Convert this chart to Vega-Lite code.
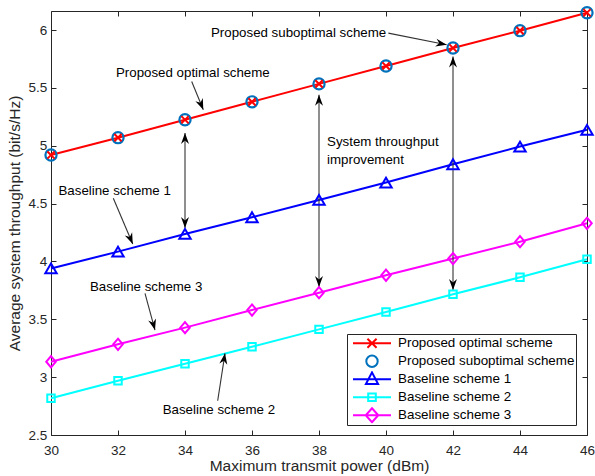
{
  "$schema": "https://vega.github.io/schema/vega-lite/v6.json",
  "width": 536,
  "height": 424,
  "autosize": "none",
  "padding": {"left": 51, "top": 11, "right": 8, "bottom": 41},
  "config": {
    "view": {"stroke": null},
    "font": "Liberation Sans",
    "axis": {
      "grid": false,
      "domainColor": "#262626",
      "tickColor": "#262626",
      "labelColor": "#262626",
      "titleColor": "#262626",
      "labelFont": "Liberation Sans",
      "titleFont": "Liberation Sans",
      "labelFontSize": 13.5,
      "titleFontSize": 15.5,
      "titleFontWeight": "normal",
      "tickSize": -5,
      "domainWidth": 1,
      "tickWidth": 1,
      "labelFlush": false
    }
  },
  "datasets": {
    "curves": [
      {"series": "Proposed optimal scheme", "power": 30, "throughput": 4.92},
      {"series": "Proposed optimal scheme", "power": 32, "throughput": 5.07},
      {"series": "Proposed optimal scheme", "power": 34, "throughput": 5.225},
      {"series": "Proposed optimal scheme", "power": 36, "throughput": 5.38},
      {"series": "Proposed optimal scheme", "power": 38, "throughput": 5.535},
      {"series": "Proposed optimal scheme", "power": 40, "throughput": 5.69},
      {"series": "Proposed optimal scheme", "power": 42, "throughput": 5.845},
      {"series": "Proposed optimal scheme", "power": 44, "throughput": 5.995},
      {"series": "Proposed optimal scheme", "power": 46, "throughput": 6.15},
      {"series": "Proposed suboptimal scheme", "power": 30, "throughput": 4.92},
      {"series": "Proposed suboptimal scheme", "power": 32, "throughput": 5.07},
      {"series": "Proposed suboptimal scheme", "power": 34, "throughput": 5.225},
      {"series": "Proposed suboptimal scheme", "power": 36, "throughput": 5.38},
      {"series": "Proposed suboptimal scheme", "power": 38, "throughput": 5.535},
      {"series": "Proposed suboptimal scheme", "power": 40, "throughput": 5.69},
      {"series": "Proposed suboptimal scheme", "power": 42, "throughput": 5.845},
      {"series": "Proposed suboptimal scheme", "power": 44, "throughput": 5.995},
      {"series": "Proposed suboptimal scheme", "power": 46, "throughput": 6.15},
      {"series": "Baseline scheme 1", "power": 30, "throughput": 3.94},
      {"series": "Baseline scheme 1", "power": 32, "throughput": 4.085},
      {"series": "Baseline scheme 1", "power": 34, "throughput": 4.238},
      {"series": "Baseline scheme 1", "power": 36, "throughput": 4.382},
      {"series": "Baseline scheme 1", "power": 38, "throughput": 4.532},
      {"series": "Baseline scheme 1", "power": 40, "throughput": 4.682},
      {"series": "Baseline scheme 1", "power": 42, "throughput": 4.84},
      {"series": "Baseline scheme 1", "power": 44, "throughput": 4.993},
      {"series": "Baseline scheme 1", "power": 46, "throughput": 5.138},
      {"series": "Baseline scheme 2", "power": 30, "throughput": 2.817},
      {"series": "Baseline scheme 2", "power": 32, "throughput": 2.969},
      {"series": "Baseline scheme 2", "power": 34, "throughput": 3.116},
      {"series": "Baseline scheme 2", "power": 36, "throughput": 3.263},
      {"series": "Baseline scheme 2", "power": 38, "throughput": 3.413},
      {"series": "Baseline scheme 2", "power": 40, "throughput": 3.563},
      {"series": "Baseline scheme 2", "power": 42, "throughput": 3.716},
      {"series": "Baseline scheme 2", "power": 44, "throughput": 3.863},
      {"series": "Baseline scheme 2", "power": 46, "throughput": 4.019},
      {"series": "Baseline scheme 3", "power": 30, "throughput": 3.133},
      {"series": "Baseline scheme 3", "power": 32, "throughput": 3.284},
      {"series": "Baseline scheme 3", "power": 34, "throughput": 3.428},
      {"series": "Baseline scheme 3", "power": 36, "throughput": 3.58},
      {"series": "Baseline scheme 3", "power": 38, "throughput": 3.73},
      {"series": "Baseline scheme 3", "power": 40, "throughput": 3.881},
      {"series": "Baseline scheme 3", "power": 42, "throughput": 4.025},
      {"series": "Baseline scheme 3", "power": 44, "throughput": 4.171},
      {"series": "Baseline scheme 3", "power": 46, "throughput": 4.33}
    ],
    "arrows": [
      {"power": 34, "throughput": 4.29, "power2": 34, "throughput2": 5.11, "tipAngle": 0, "tailAngle": 180},
      {"power": 38, "throughput": 3.78, "power2": 38, "throughput2": 5.44, "tipAngle": 0, "tailAngle": 180},
      {"power": 42, "throughput": 3.753, "power2": 42, "throughput2": 5.772, "tipAngle": 0, "tailAngle": 180},
      {"power": 34.2, "throughput": 5.555, "power2": 34.546, "throughput2": 5.311, "tipAngle": 157.7, "tailAngle": null},
      {"power": 40.07, "throughput": 5.974, "power2": 41.81, "throughput2": 5.873, "tipAngle": 101.3, "tailAngle": null},
      {"power": 31.86, "throughput": 4.547, "power2": 32.44, "throughput2": 4.151, "tipAngle": 157, "tailAngle": null},
      {"power": 32.806, "throughput": 3.725, "power2": 33.104, "throughput2": 3.407, "tipAngle": 164.8, "tailAngle": null},
      {"power": 34.976, "throughput": 2.796, "power2": 35.194, "throughput2": 3.206, "tipAngle": 8.8, "tailAngle": null}
    ],
    "notes": [
      {"power": 34.776, "throughput": 5.977, "text": "Proposed suboptimal scheme"},
      {"power": 31.94, "throughput": 5.631, "text": "Proposed optimal scheme"},
      {"power": 30.224, "throughput": 4.612, "text": "Baseline scheme 1"},
      {"power": 31.164, "throughput": 3.782, "text": "Baseline scheme 3"},
      {"power": 33.334, "throughput": 2.715, "text": "Baseline scheme 2"},
      {"power": 38.24, "throughput": 5.036, "text": "System throughput"},
      {"power": 38.24, "throughput": 4.878, "text": "improvement"}
    ]
  },
  "resolve": {"axis": {"x": "independent", "y": "independent"}},
  "layer": [
    {
      "data": {"name": "curves"},
      "transform": [{"filter": "datum.series === 'Proposed optimal scheme'"}],
      "mark": {"type": "line", "strokeWidth": 2, "color": "#FF0000"},
      "encoding": {
        "x": {"field": "power", "type": "quantitative",
          "scale": {"domain": [30, 46], "nice": false, "zero": false},
          "axis": {"orient": "bottom", "values": [30, 32, 34, 36, 38, 40, 42, 44, 46], "format": "d",
            "title": "Maximum transmit power (dBm)", "labelPadding": 13, "titlePadding": 2}},
        "y": {"field": "throughput", "type": "quantitative",
          "scale": {"domain": [2.5, 6.165], "nice": false, "zero": false},
          "axis": {"orient": "left", "values": [2.5, 3, 3.5, 4, 4.5, 5, 5.5, 6], "format": "~g",
            "title": "Average system throughput (bit/s/Hz)", "labelPadding": 9.3, "titlePadding": 5}}
      }
    },
    {
      "data": {"name": "curves"},
      "mark": {"type": "point", "opacity": 0},
      "encoding": {
        "x": {"field": "power", "type": "quantitative",
          "axis": {"orient": "top", "values": [30, 32, 34, 36, 38, 40, 42, 44, 46], "labels": false, "title": null}},
        "y": {"field": "throughput", "type": "quantitative",
          "axis": {"orient": "right", "values": [2.5, 3, 3.5, 4, 4.5, 5, 5.5, 6], "labels": false, "title": null}}
      }
    },
    {
      "data": {"name": "curves"},
      "transform": [{"filter": "datum.series === 'Baseline scheme 1'"}],
      "mark": {"type": "line", "strokeWidth": 2, "color": "#0000FF"},
      "encoding": {
        "x": {"field": "power", "type": "quantitative", "axis": null},
        "y": {"field": "throughput", "type": "quantitative", "axis": null}
      }
    },
    {
      "data": {"name": "curves"},
      "transform": [{"filter": "datum.series === 'Baseline scheme 2'"}],
      "mark": {"type": "line", "strokeWidth": 2, "color": "#00FFFF"},
      "encoding": {
        "x": {"field": "power", "type": "quantitative", "axis": null},
        "y": {"field": "throughput", "type": "quantitative", "axis": null}
      }
    },
    {
      "data": {"name": "curves"},
      "transform": [{"filter": "datum.series === 'Baseline scheme 3'"}],
      "mark": {"type": "line", "strokeWidth": 2, "color": "#FF00FF"},
      "encoding": {
        "x": {"field": "power", "type": "quantitative", "axis": null},
        "y": {"field": "throughput", "type": "quantitative", "axis": null}
      }
    },
    {
      "data": {"name": "arrows"},
      "mark": {"type": "rule", "color": "#333333", "strokeWidth": 1.1},
      "encoding": {
        "x": {"field": "power", "type": "quantitative", "axis": null},
        "y": {"field": "throughput", "type": "quantitative", "axis": null},
        "x2": {"field": "power2"},
        "y2": {"field": "throughput2"}
      }
    },
    {
      "data": {"name": "arrows"},
      "mark": {"type": "point", "shape": "M0,0L-4,11L0,7.5L4,11Z", "size": 4, "filled": true, "color": "black", "opacity": 1, "strokeWidth": 0},
      "encoding": {
        "x": {"field": "power2", "type": "quantitative", "axis": null},
        "y": {"field": "throughput2", "type": "quantitative", "axis": null},
        "angle": {"field": "tipAngle", "type": "quantitative", "scale": null}
      }
    },
    {
      "data": {"name": "arrows"},
      "transform": [{"filter": "datum.tailAngle !== null"}],
      "mark": {"type": "point", "shape": "M0,0L-4,11L0,7.5L4,11Z", "size": 4, "filled": true, "color": "black", "opacity": 1, "strokeWidth": 0},
      "encoding": {
        "x": {"field": "power", "type": "quantitative", "axis": null},
        "y": {"field": "throughput", "type": "quantitative", "axis": null},
        "angle": {"field": "tailAngle", "type": "quantitative", "scale": null}
      }
    },
    {
      "data": {"name": "curves"},
      "transform": [{"filter": "datum.series === 'Proposed suboptimal scheme'"}],
      "mark": {"type": "point", "shape": "circle", "size": 125, "filled": false, "color": "#0072BD", "strokeWidth": 2.2, "opacity": 1},
      "encoding": {
        "x": {"field": "power", "type": "quantitative", "axis": null},
        "y": {"field": "throughput", "type": "quantitative", "axis": null}
      }
    },
    {
      "data": {"name": "curves"},
      "transform": [{"filter": "datum.series === 'Proposed optimal scheme'"}],
      "mark": {"type": "point", "shape": "M-1,-1L1,1M-1,1L1,-1", "size": 52, "filled": false, "color": "#FF0000", "strokeWidth": 2, "opacity": 1},
      "encoding": {
        "x": {"field": "power", "type": "quantitative", "axis": null},
        "y": {"field": "throughput", "type": "quantitative", "axis": null}
      }
    },
    {
      "data": {"name": "curves"},
      "transform": [{"filter": "datum.series === 'Baseline scheme 1'"}],
      "mark": {"type": "point", "shape": "triangle-up", "size": 130, "filled": false, "color": "#0000FF", "strokeWidth": 2, "opacity": 1},
      "encoding": {
        "x": {"field": "power", "type": "quantitative", "axis": null},
        "y": {"field": "throughput", "type": "quantitative", "axis": null}
      }
    },
    {
      "data": {"name": "curves"},
      "transform": [{"filter": "datum.series === 'Baseline scheme 2'"}],
      "mark": {"type": "point", "shape": "square", "size": 56, "filled": false, "color": "#00FFFF", "strokeWidth": 2, "opacity": 1},
      "encoding": {
        "x": {"field": "power", "type": "quantitative", "axis": null},
        "y": {"field": "throughput", "type": "quantitative", "axis": null}
      }
    },
    {
      "data": {"name": "curves"},
      "transform": [{"filter": "datum.series === 'Baseline scheme 3'"}],
      "mark": {"type": "point", "shape": "M0,-1.12L0.95,0L0,1.12L-0.95,0Z", "size": 100, "filled": false, "color": "#FF00FF", "strokeWidth": 2, "opacity": 1},
      "encoding": {
        "x": {"field": "power", "type": "quantitative", "axis": null},
        "y": {"field": "throughput", "type": "quantitative", "axis": null}
      }
    },
    {
      "data": {"name": "notes"},
      "mark": {"type": "text", "align": "left", "baseline": "middle", "font": "Liberation Sans", "fontSize": 13.3, "color": "black"},
      "encoding": {
        "x": {"field": "power", "type": "quantitative", "axis": null},
        "y": {"field": "throughput", "type": "quantitative", "axis": null},
        "text": {"field": "text"}
      }
    },
    {
      "data": {"name": "curves"},
      "mark": {"type": "point", "filled": false, "opacity": 0},
      "encoding": {
        "x": {"field": "power", "type": "quantitative", "axis": null},
        "y": {"field": "throughput", "type": "quantitative", "axis": null},
        "color": {"field": "series", "type": "nominal",
          "scale": {"domain": ["Proposed optimal scheme", "Proposed suboptimal scheme", "Baseline scheme 1", "Baseline scheme 2", "Baseline scheme 3"],
            "range": ["#FF0000", "#0072BD", "#0000FF", "#00FFFF", "#FF00FF"]},
          "legend": {"orient": "none", "legendX": 296, "legendY": 323, "title": null, "symbolSize": 1444, "symbolStrokeWidth": 2,
            "symbolOpacity": 1, "labelFont": "Liberation Sans", "labelFontSize": 13.4, "labelColor": "black", "labelOffset": 6, "symbolOffset": 4,
            "padding": 1, "clipHeight": 16.5, "rowPadding": 1, "strokeColor": "#262626", "fillColor": "white", "labelLimit": 0,
            "labelExpr": "datum.label + '\u00a0\u00a0\u00a0'"}},
        "shape": {"field": "series", "type": "nominal",
          "scale": {"domain": ["Proposed optimal scheme", "Proposed suboptimal scheme", "Baseline scheme 1", "Baseline scheme 2", "Baseline scheme 3"],
            "range": [
              "M-1,0H1M-0.24,-0.24L0.24,0.24M-0.24,0.24L0.24,-0.24",
              "M0.3,0A0.3,0.3,0,1,1,-0.3,0A0.3,0.3,0,1,1,0.3,0Z",
              "M-1,0H1M0,-0.36L0.32,0.25L-0.32,0.25Z",
              "M-1,0H1M-0.2,-0.2H0.2V0.2H-0.2Z",
              "M-1,0H1M0,-0.37L0.33,0L0,0.37L-0.33,0Z"
            ]},
          "legend": {"orient": "none", "legendX": 296, "legendY": 323, "title": null, "symbolSize": 1444, "symbolStrokeWidth": 2,
            "symbolOpacity": 1, "labelFont": "Liberation Sans", "labelFontSize": 13.4, "labelColor": "black", "labelOffset": 6, "symbolOffset": 4,
            "padding": 1, "clipHeight": 16.5, "rowPadding": 1, "strokeColor": "#262626", "fillColor": "white", "labelLimit": 0,
            "labelExpr": "datum.label + '\u00a0\u00a0\u00a0'"}}
      }
    }
  ]
}
